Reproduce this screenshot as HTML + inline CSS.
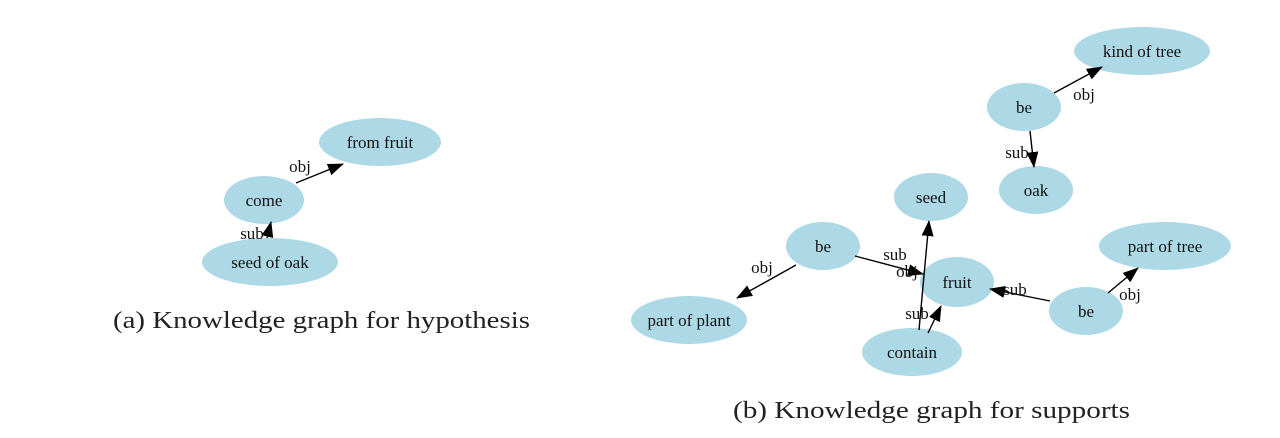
<!DOCTYPE html>
<html><head><style>body{margin:0;background:#fff}svg{display:block}</style></head><body>
<svg width="1280" height="438" xmlns="http://www.w3.org/2000/svg">
<defs>
<marker id="b" markerWidth="16" markerHeight="12" refX="15" refY="6" orient="auto" markerUnits="userSpaceOnUse"><path d="M0,0L16,6L0,12z" fill="#000"/></marker></defs>
<g fill="#add8e6">
<ellipse cx="380" cy="142" rx="61" ry="24"/><ellipse cx="264" cy="200" rx="40" ry="24"/><ellipse cx="270" cy="262" rx="68" ry="24"/>
<ellipse cx="1142" cy="51" rx="68" ry="24"/><ellipse cx="1024" cy="107" rx="37" ry="24"/><ellipse cx="1036" cy="190" rx="37" ry="24"/>
<ellipse cx="931" cy="197" rx="37" ry="24"/><ellipse cx="823" cy="246" rx="37" ry="24"/><ellipse cx="957" cy="282" rx="37" ry="25"/>
<ellipse cx="1165" cy="246" rx="66" ry="24"/><ellipse cx="689" cy="320" rx="58" ry="24"/><ellipse cx="1086" cy="311" rx="37" ry="24"/>
<ellipse cx="912" cy="352" rx="50" ry="24"/>
</g>
<g stroke="#000" stroke-width="1.4" fill="none" marker-end="url(#b)">
<path d="M296,183L343,164"/><path d="M267,238L271,222"/>
<path d="M1054,93L1102,67"/><path d="M1030,131L1034,167"/>
<path d="M855,256L923,274"/><path d="M796,265L737,298"/>
<path d="M919,330L929,221"/><path d="M928,333L941,306"/>
<path d="M1050,301L990,289"/><path d="M1108,293L1138,268"/>
</g>
<g font-family="Liberation Serif, serif" font-size="17" fill="#111" text-anchor="middle">
<text x="380" y="148">from fruit</text><text x="264" y="206">come</text><text x="270" y="268">seed of oak</text>
<text x="1142" y="57">kind of tree</text><text x="1024" y="113">be</text><text x="1036" y="196">oak</text>
<text x="931" y="203">seed</text><text x="823" y="252">be</text><text x="957" y="288">fruit</text>
<text x="1165" y="252">part of tree</text><text x="689" y="326">part of plant</text><text x="1086" y="317">be</text>
<text x="912" y="358">contain</text>
<text x="300" y="172">obj</text><text x="252" y="239">sub</text>
<text x="1084" y="100">obj</text><text x="1017" y="158">sub</text>
<text x="895" y="260">sub</text><text x="907" y="277">obj</text><text x="762" y="273">obj</text>
<text x="917" y="319">sub</text><text x="1015" y="295">sub</text><text x="1130" y="300">obj</text>
</g>
<g font-family="Liberation Serif, serif" font-size="24" fill="#222">
<text x="113" y="328" textLength="417" lengthAdjust="spacingAndGlyphs">(a) Knowledge graph for hypothesis</text>
<text x="733" y="418" textLength="397" lengthAdjust="spacingAndGlyphs">(b) Knowledge graph for supports</text>
</g>
</svg>
</body></html>
